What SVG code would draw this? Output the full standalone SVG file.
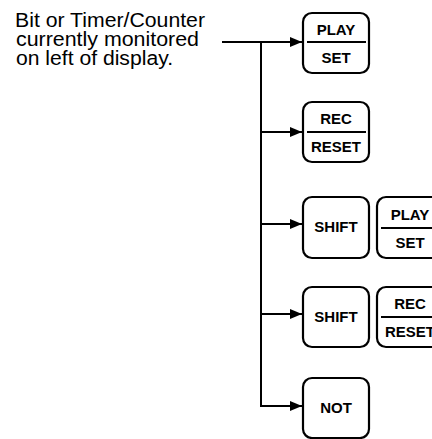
<svg xmlns="http://www.w3.org/2000/svg" width="432" height="439" viewBox="0 0 432 439">
<defs>
<marker id="arr" markerWidth="12" markerHeight="10" refX="12" refY="5" orient="auto" markerUnits="userSpaceOnUse">
<path d="M0,0 L12,5 L0,10 Z" fill="#000"/>
</marker>
</defs>
<style>
.box{fill:#fff;stroke:#000;stroke-width:2.2}
.div{stroke:#000;stroke-width:2}
.lbl{font-family:"Liberation Sans",Arial,sans-serif;font-weight:bold;font-size:15px;text-anchor:middle;fill:#000}
.note{font-family:"Liberation Sans",Arial,sans-serif;font-size:19.5px;fill:#000}
.wire{fill:none;stroke:#000;stroke-width:2}
</style>
<rect width="432" height="439" fill="#fff"/>
<g id="note">
<text class="note" x="15" y="27" textLength="190" lengthAdjust="spacingAndGlyphs">Bit or Timer/Counter</text>
<text class="note" x="16" y="46" textLength="183" lengthAdjust="spacingAndGlyphs">currently monitored</text>
<text class="note" x="16" y="64.5" textLength="157" lengthAdjust="spacingAndGlyphs">on left of display.</text>
</g>
<g id="connectors">
<path class="wire" d="M222,42 H302" marker-end="url(#arr)"/>
<path class="wire" d="M261,42 V406 H302" marker-end="url(#arr)"/>
<path class="wire" d="M261,132 H302" marker-end="url(#arr)"/>
<path class="wire" d="M261,224 H302" marker-end="url(#arr)"/>
<path class="wire" d="M261,314 H302" marker-end="url(#arr)"/>
</g>
<g id="play-set">
<rect class="box" x="303" y="13" width="66" height="60" rx="9"/>
<line class="div" x1="307" y1="42" x2="366" y2="42"/>
<text class="lbl" x="336" y="35">PLAY</text>
<text class="lbl" x="336" y="63">SET</text>
</g>
<g id="rec-reset">
<rect class="box" x="303" y="102" width="66" height="60" rx="9"/>
<line class="div" x1="307" y1="132" x2="366" y2="132"/>
<text class="lbl" x="336" y="124">REC</text>
<text class="lbl" x="336" y="152">RESET</text>
</g>
<g id="shift-1">
<rect class="box" x="303" y="197" width="66" height="61" rx="9"/>
<text class="lbl" x="336" y="232">SHIFT</text>
</g>
<g id="play-set-2">
<rect class="box" x="377" y="197" width="66" height="61" rx="9"/>
<line class="div" x1="381" y1="228" x2="440" y2="228"/>
<text class="lbl" x="410" y="220">PLAY</text>
<text class="lbl" x="410" y="248">SET</text>
</g>
<g id="shift-2">
<rect class="box" x="303" y="287" width="66" height="60" rx="9"/>
<text class="lbl" x="336" y="322">SHIFT</text>
</g>
<g id="rec-reset-2">
<rect class="box" x="377" y="287" width="66" height="60" rx="9"/>
<line class="div" x1="381" y1="317" x2="440" y2="317"/>
<text class="lbl" x="410" y="309">REC</text>
<text class="lbl" x="410" y="337">RESET</text>
</g>
<g id="not">
<rect class="box" x="303" y="378" width="66" height="60" rx="9"/>
<text class="lbl" x="336" y="413">NOT</text>
</g>
</svg>
